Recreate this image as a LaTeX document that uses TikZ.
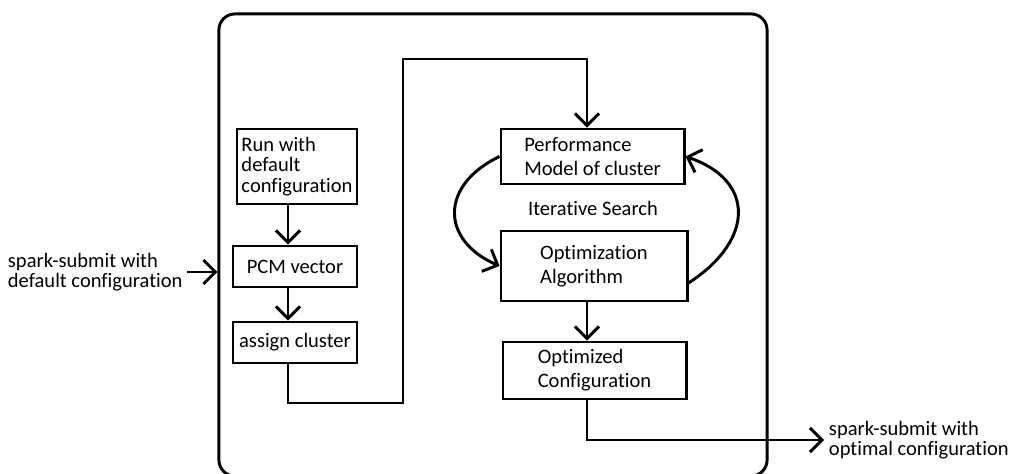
\documentclass[tikz,border=0pt]{standalone}
\usepackage{fontspec}
\setmainfont{Carlito}[Ligatures=NoCommon]
\usetikzlibrary{arrows.meta}

\begin{document}
\begin{tikzpicture}[x=0.025cm, y=-0.025cm,
    box/.style={draw, line width=2.1pt, align=left, inner sep=0pt, font=\fontsize{14.6}{14.5}\selectfont},
    wide/.style={font=\fontsize{14.6}{17}\selectfont},
    txt/.style={align=left, font=\fontsize{14.6}{14}\selectfont},
    arr/.style={line width=2.1pt, -{Straight Barb[length=3mm,width=6mm]}}]
            \useasboundingbox (0,0) rectangle (1011,473);
            \clip (0,0) rectangle (1011,473);
            \node[draw, line width=2.1pt, rounded corners=0.4cm, minimum width=13.7cm, minimum height=11.55cm] (frame) at (493,245) {};
            \node[box, minimum width=3cm, minimum height=1.875cm] (run) at (297,166.5) {Run with\\default\\configuration};
            \node[box, minimum width=3.1cm, minimum height=1.025cm] (pcm) at (295,266.5) {PCM vector};
            \node[box, minimum width=3.1cm, minimum height=1.025cm] (assign) at (295,342.5) {assign cluster};
            \node[box, wide, minimum width=4.575cm, minimum height=1.375cm] (perf) at (592.5,156.5) {Performance\\Model of cluster};
            \node[box, wide, minimum width=4.65cm, minimum height=1.75cm] (optalg) at (594,266) {Optimization\\Algorithm};
            \node[box, wide, minimum width=4.575cm, minimum height=1.425cm] (optconf) at (594.5,370.5) {Optimized\\Configuration};
            \node[txt] (search) at (593,208) {Iterative Search};
            \node[txt, anchor=west] (inlbl) at (3,272) {spark-submit with\\default configuration};
            \node[txt, anchor=west] (outlbl) at (824,440) {spark-submit with\\optimal configuration};
            \coordinate (colA) at (288,0);
            \coordinate (colB) at (587,0);
            \coordinate (low) at (403,403);
            \coordinate (high) at (403,59);
            \draw[arr] (run.south -| colA) -- (pcm.north -| colA);
            \draw[arr] (pcm.south -| colA) -- (assign.north -| colA);
            \draw[arr] (assign.south -| colA) |- (low) -- (high) -| (perf.north -| colB);
            \draw[arr] (optalg.south -| colB) -- (optconf.north -| colB);
            \draw[arr] (optconf.south -| colB) |- (outlbl.west);
            \draw[arr] (inlbl.east) -- (inlbl.east -| frame.west);
            \draw[arr] (perf.west) .. controls (440,185) and (440,240) .. (optalg.west);
            \draw[arr] ([yshift=-0.425cm]optalg.east) .. controls (755,240) and (755,180) .. (perf.east);
        \end{tikzpicture}
\end{document}
